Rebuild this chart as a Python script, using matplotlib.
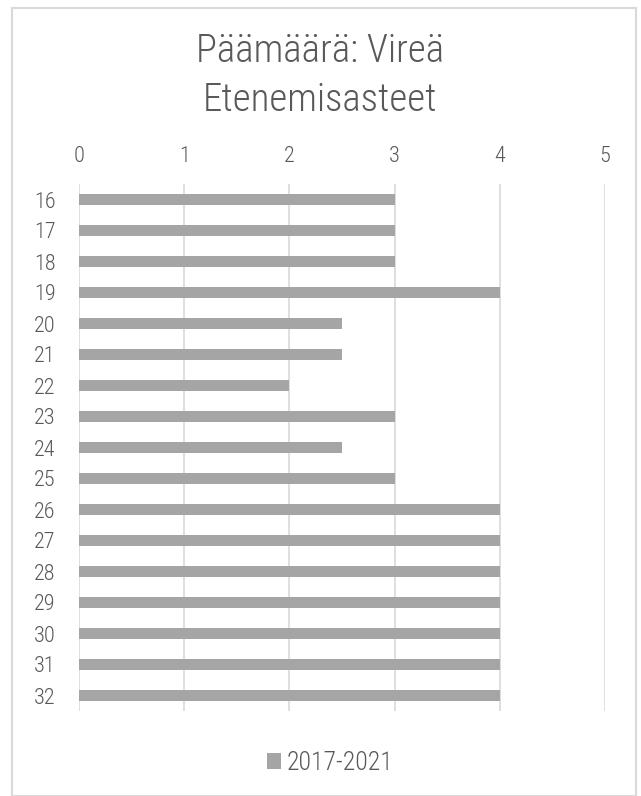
import matplotlib
matplotlib.use("Agg")
import matplotlib.pyplot as plt
from matplotlib.patches import Rectangle
from matplotlib import font_manager

categories = ["16", "17", "18", "19", "20", "21", "22", "23", "24", "25",
              "26", "27", "28", "29", "30", "31", "32"]
values = [3, 3, 3, 4, 2.5, 2.5, 2, 3, 2.5, 3, 4, 4, 4, 4, 4, 4, 4]
series_name = "2017-2021"
title = "Päämäärä: Vireä\nEtenemisasteet"
xticks = [0, 1, 2, 3, 4, 5]

names = {f.name for f in font_manager.fontManager.ttflist}
prefs = ["Roboto Condensed", "Fira Sans Condensed", "Open Sans Condensed",
         "Barlow Condensed", "Archivo Narrow", "PT Sans Narrow",
         "Liberation Sans Narrow", "Roboto"]
fam = next((p for p in prefs if p in names), "DejaVu Sans")
plt.rcParams['font.family'] = [fam, 'DejaVu Sans']
plt.rcParams['font.weight'] = 'light'

text_c = "#595959"
grid_c = "#D9D9D9"
bar_c = "#A5A5A5"

W, H = 641, 796
fig = plt.figure(figsize=(W / 100, H / 100), dpi=100)
fig.patches.append(Rectangle((12 / W, 0), (636 - 12) / W, (796 - 8) / H,
                             transform=fig.transFigure, fill=False,
                             edgecolor=grid_c, linewidth=1.5))

ax = fig.add_axes([79 / W, 1 - 711 / H, (605 - 79) / W, (711 - 184) / H])
y = list(range(len(categories)))
ax.barh(y, values, height=0.35, color=bar_c, label=series_name, zorder=3)
ax.set_ylim(len(categories) - 0.5, -0.5)
ax.set_xlim(0, 5)
ax.set_yticks(y)
ax.set_yticklabels(categories, fontsize=16, color=text_c)
ax.set_xticks(xticks)
ax.set_xticklabels([str(t) for t in xticks], fontsize=16, color=text_c)
ax.xaxis.tick_top()
ax.tick_params(length=0, pad=12)
ax.tick_params(axis='y', pad=17)
ax.grid(axis='x', color=grid_c, linewidth=1.2, zorder=0)
for s in ax.spines.values():
    s.set_visible(False)

fig.text(0.5, 1 - 76 / H, title, ha='center', va='center', fontsize=28,
         color=text_c, linespacing=1.38)

leg = fig.legend(loc='center', bbox_to_anchor=(330 / W, 1 - 763 / H), frameon=False,
                 fontsize=18.5, handlelength=0.55, handleheight=0.55, handletextpad=0.2,
                 borderpad=0, borderaxespad=0)
for t in leg.get_texts():
    t.set_color(text_c)

fig.savefig("out.png", dpi=100)
